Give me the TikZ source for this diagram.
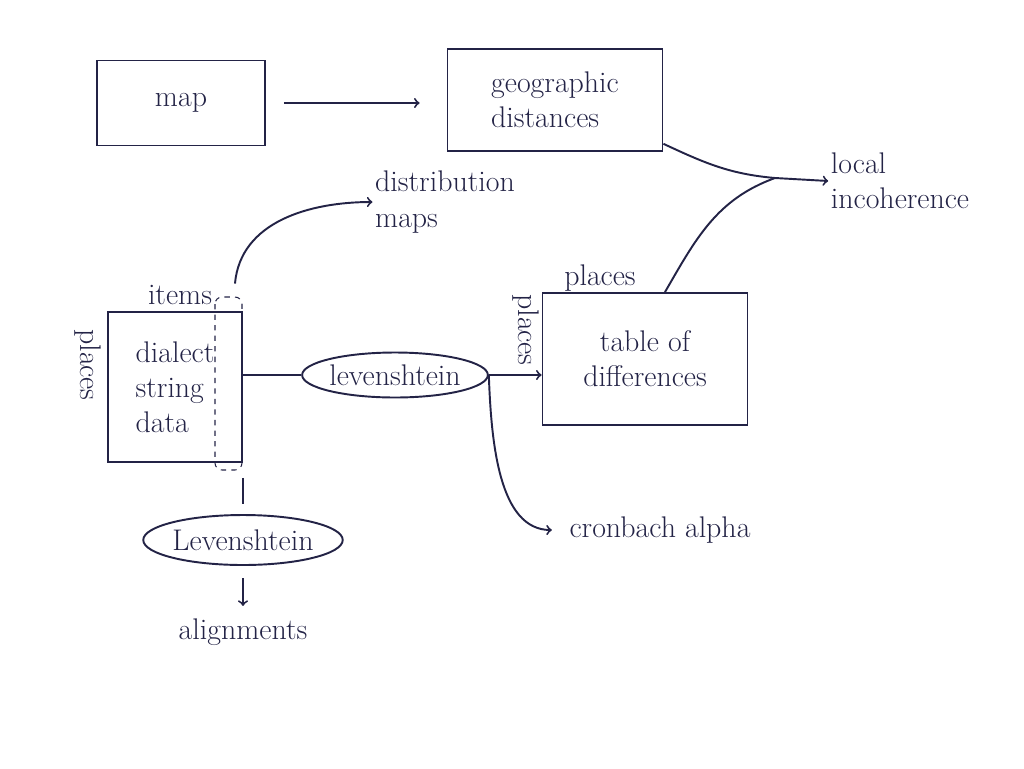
\documentclass[tikz,border=0pt]{standalone}
\usepackage{tikz}
\usetikzlibrary{shapes}
\usetikzlibrary{arrows}
\definecolor{ink}{RGB}{35,35,70}

\begin{document}
\begin{tikzpicture}[x=0.02cm,y=-0.02cm,color=ink,line width=1.1pt]
		\tikzstyle{every node}=[font=\fontsize{17}{20}\selectfont]
		\tikzstyle{box}=[rectangle,draw]
		\tikzstyle{oval}=[ellipse,draw,inner sep=0pt]
		\tikzstyle{lbl}=[align=left,inner sep=1pt]
		\useasboundingbox (0,0) rectangle (1024,768);
		
		\node[box,minimum width=3.36cm,minimum height=1.7cm](map) at (181,103) {map};
		\node[box,minimum width=4.3cm,minimum height=2.04cm,align=left](geo) at (555,100) {geographic\\distances};
		\node[lbl](inc) at (900,181) {local\\incoherence};
		\node[lbl](dist) at (445,202) {distribution\\maps};
		\node[box,minimum width=2.68cm,minimum height=3cm,align=left](dia) at (175,387) {dialect\\string\\data};
		\node[lbl](items) at (180,295) {items};
		\node[lbl,rotate=-90](pl1) at (88,365) {places};
		\node[oval,minimum width=3.7cm,minimum height=0.9cm](lev1) at (395,375) {levenshtein};
		\node[box,minimum width=4.1cm,minimum height=2.64cm,align=center](tab) at (645,359) {table of\\differences};
		\node[lbl](pl2) at (600,278) {places};
		\node[lbl,rotate=-90](pl3) at (526,330) {places};
		\node[lbl](cron) at (660,530) {cronbach alpha};
		\node[oval,minimum width=3.6cm,minimum height=1cm](lev2) at (243,540) {Levenshtein};
		\node[lbl](align) at (243,632) {alignments};
		\coordinate (j) at (775,178);
		
		\draw[dashed,rounded corners=4pt,line width=0.6pt] (215,297) rectangle (242,470);
		\draw[->,shorten <=0.36cm,shorten >=0.54cm] (map.east) -- (map.east -| geo.west);
		\draw (geo.-22) to[out=-25,in=175] (j);
		\draw ([xshift=0.4cm]tab.north) to[out=60,in=200] (j);
		\draw[->] (j) -- (inc.west);
		\draw[->] ([xshift=1.2cm,yshift=0.55cm]dia.north) to[out=85,in=180] (dist.west);
		\draw (dia.east |- lev1.west) -- (lev1.west);
		\draw[->] (lev1.east) -- (lev1.east -| tab.west);
		\draw[->,shorten >=0.3cm] (lev1.east) to[out=-88,in=180] (cron.west);
		\draw[shorten <=0.3cm,shorten >=0.2cm] (dia.south -| lev2.north) -- (lev2.north);
		\draw[->,shorten <=0.25cm,shorten >=0.2cm] (lev2.south) -- (lev2.south |- align.north);
\end{tikzpicture}
\end{document}
